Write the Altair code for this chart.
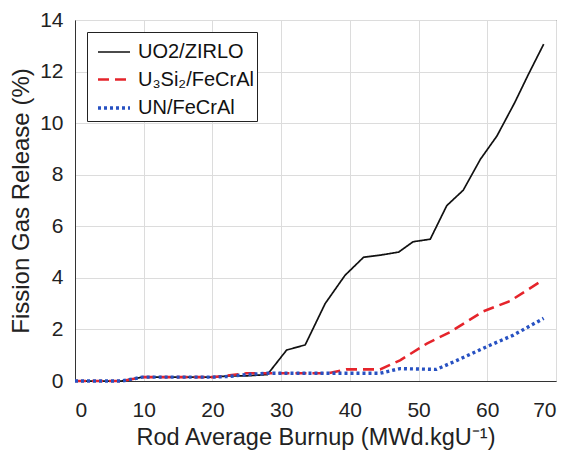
import altair as alt
import pandas as pd

series_names = ["UO2/ZIRLO", "U₃Si₂/FeCrAl", "UN/FeCrAl"]

uo2_x = [0, 6.8, 9.8, 12, 15, 18, 20, 22.5, 25, 28, 30.8, 33.5, 36.4, 39.3, 42.0, 44.4, 47.1, 49.2, 51.7, 54.1, 56.5, 59.0, 61.4, 64.0, 66.0, 68.2]
uo2_y = [0, 0, 0.15, 0.15, 0.15, 0.15, 0.15, 0.2, 0.2, 0.25, 1.2, 1.4, 3.0, 4.1, 4.8, 4.88, 5.0, 5.4, 5.5, 6.8, 7.4, 8.6, 9.5, 10.8, 11.9, 13.06]

u3si2_x = [0, 6.8, 9.8, 15, 20, 22.5, 25, 28, 32, 36.9, 39.5, 44.4, 47.3, 51.2, 54.6, 57.0, 59.4, 63.3, 68.0]
u3si2_y = [0, 0, 0.15, 0.15, 0.15, 0.22, 0.3, 0.3, 0.3, 0.3, 0.45, 0.45, 0.8, 1.45, 1.9, 2.3, 2.7, 3.1, 3.9]

un_x = [0, 6.8, 9.8, 15, 20, 22.5, 25, 28, 32, 36.9, 40, 44.4, 47.3, 52.6, 55.6, 59.9, 63.8, 68.2]
un_y = [0, 0, 0.15, 0.15, 0.15, 0.18, 0.25, 0.3, 0.3, 0.3, 0.3, 0.3, 0.48, 0.45, 0.8, 1.33, 1.78, 2.43]

rows = []
for name, xs, ys in [(series_names[0], uo2_x, uo2_y),
                     (series_names[1], u3si2_x, u3si2_y),
                     (series_names[2], un_x, un_y)]:
    for i, (xv, yv) in enumerate(zip(xs, ys)):
        rows.append({"series": name, "burnup": xv, "fgr": yv, "order": i})
df = pd.DataFrame(rows)

FONT = "Liberation Sans"

legend = alt.Legend(
    title=None, orient="none", legendX=12, legendY=12,
    symbolType="stroke", symbolSize=1024, symbolOffset=6,
    labelFontSize=20, labelFont=FONT, labelColor="#111",
    labelOffset=6, rowPadding=-5,
    strokeColor="#222", fillColor="white", padding=3,
    cornerRadius=0,
)

chart = alt.Chart(df).mark_line().encode(
    x=alt.X("burnup:Q", scale=alt.Scale(domain=[0, 70], nice=False),
            axis=alt.Axis(values=[0, 10, 20, 30, 40, 50, 60, 70],
                          title="Rod Average Burnup (MWd.kgU⁻¹)",
                          labelPadding=18, titlePadding=5, titleFontSize=23.5)),
    y=alt.Y("fgr:Q", scale=alt.Scale(domain=[0, 14], nice=False),
            axis=alt.Axis(values=[0, 2, 4, 6, 8, 10, 12, 14],
                          title="Fission Gas Release (%)",
                          labelPadding=12, titlePadding=6, titleFontSize=24)),
    color=alt.Color("series:N", sort=series_names,
                    scale=alt.Scale(domain=series_names, range=["#111111", "#e5242b", "#2751c2"]),
                    legend=legend),
    strokeDash=alt.StrokeDash("series:N", sort=series_names,
                              scale=alt.Scale(domain=series_names, range=[[1, 0], [11, 6], [3, 3]]),
                              legend=legend),
    strokeWidth=alt.StrokeWidth("series:N", sort=series_names,
                                scale=alt.Scale(domain=series_names, range=[1.7, 3.4, 3.4]),
                                legend=legend),
    order="order:Q",
).properties(
    width=481, height=361,
    autosize=alt.AutoSizeParams(type="none"),
    padding={"left": 67, "top": 12, "right": 3, "bottom": 74},
).configure_axis(
    labelFont=FONT, titleFont=FONT, labelFontSize=21,
    labelColor="#222", titleColor="#222", titleFontWeight="normal",
    grid=True, gridColor="#dcdcdc", gridWidth=1,
    tickSize=0, domainColor="#333",
).configure_view(
    stroke="#333", strokeWidth=1,
)

chart.save("out.html", embed_options={"renderer": "svg", "actions": False})
